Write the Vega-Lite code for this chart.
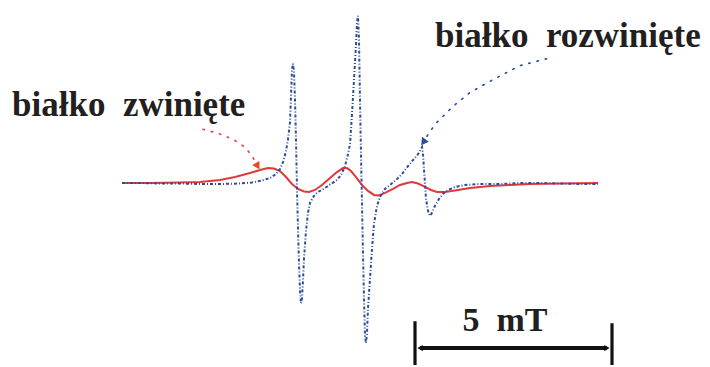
{
  "$schema": "https://vega.github.io/schema/vega-lite/v6.json",
  "width": 710,
  "height": 367,
  "autosize": {"type": "fit", "contains": "padding"},
  "padding": 0,
  "config": {"view": {"stroke": null}},
  "datasets": {
    "blue": [
      {"B":122,"a":184},{"B":140,"a":184},{"B":160,"a":184.5},{"B":180,"a":184.5},{"B":200,"a":185},{"B":220,"a":185},{"B":240,"a":184.5},{"B":252,"a":183.5},{"B":262,"a":181.5},{"B":270,"a":179},{"B":276,"a":175},{"B":280,"a":170},{"B":283,"a":163},{"B":286,"a":152},{"B":288,"a":140},{"B":290,"a":123},{"B":291,"a":97},{"B":292,"a":70},{"B":293,"a":64},{"B":294,"a":72},{"B":295,"a":100},{"B":296,"a":140},{"B":297,"a":190},{"B":298,"a":230},{"B":299,"a":265},{"B":300,"a":292},{"B":301,"a":305},{"B":302,"a":300},{"B":303,"a":282},{"B":304,"a":260},{"B":306,"a":232},{"B":308,"a":214},{"B":310,"a":204},{"B":314,"a":197},{"B":318,"a":193},{"B":325,"a":189},{"B":331,"a":185},{"B":337,"a":181},{"B":341,"a":176},{"B":345,"a":167},{"B":348,"a":155},{"B":350,"a":145},{"B":352,"a":115},{"B":354,"a":80},{"B":356,"a":45},{"B":357,"a":22},{"B":358,"a":16},{"B":359,"a":40},{"B":360,"a":100},{"B":361,"a":155},{"B":362,"a":205},{"B":363,"a":255},{"B":364,"a":300},{"B":365,"a":338},{"B":366,"a":345},{"B":367,"a":335},{"B":368,"a":310},{"B":370,"a":280},{"B":372,"a":250},{"B":374,"a":225},{"B":377,"a":207},{"B":380,"a":198},{"B":385,"a":190},{"B":390,"a":186},{"B":396,"a":181},{"B":402,"a":175},{"B":408,"a":167},{"B":413,"a":161},{"B":418,"a":155},{"B":421,"a":150},{"B":422,"a":148},{"B":423,"a":155},{"B":424,"a":170},{"B":425,"a":185},{"B":426,"a":200},{"B":428,"a":212},{"B":430,"a":217},{"B":432,"a":214},{"B":435,"a":207},{"B":439,"a":200},{"B":443,"a":195},{"B":448,"a":191},{"B":455,"a":188},{"B":465,"a":186},{"B":480,"a":185},{"B":500,"a":185},{"B":520,"a":184},{"B":540,"a":184},{"B":560,"a":184.5},{"B":580,"a":185},{"B":598,"a":185}
    ],
    "red": [
      {"B":122,"a":184},{"B":150,"a":184},{"B":180,"a":183.5},{"B":200,"a":183},{"B":220,"a":181},{"B":235,"a":178},{"B":250,"a":174},{"B":260,"a":171},{"B":268,"a":169},{"B":274,"a":169.5},{"B":280,"a":172},{"B":286,"a":178},{"B":292,"a":185},{"B":298,"a":190},{"B":304,"a":192.5},{"B":309,"a":193},{"B":315,"a":191},{"B":322,"a":186},{"B":330,"a":179},{"B":337,"a":173},{"B":343,"a":169},{"B":347,"a":169},{"B":351,"a":172},{"B":356,"a":178},{"B":362,"a":186},{"B":368,"a":192},{"B":374,"a":196},{"B":379,"a":196.5},{"B":385,"a":194},{"B":393,"a":190},{"B":400,"a":186},{"B":407,"a":184},{"B":412,"a":183},{"B":418,"a":184.5},{"B":425,"a":188},{"B":431,"a":191},{"B":437,"a":193},{"B":445,"a":193},{"B":455,"a":191.5},{"B":470,"a":189},{"B":490,"a":187},{"B":510,"a":186},{"B":530,"a":185},{"B":560,"a":184.5},{"B":598,"a":184}
    ],
    "redArrow": [
      {"B":203,"a":130},{"B":218,"a":134},{"B":233,"a":140},{"B":245,"a":148},{"B":252,"a":157},{"B":255,"a":162}
    ],
    "blueArrow": [
      {"B":547,"a":59},{"B":520,"a":66},{"B":495,"a":79},{"B":470,"a":93},{"B":453,"a":107},{"B":437,"a":123},{"B":430,"a":132},{"B":427,"a":137}
    ],
    "heads": [
      {"B":257,"a":166,"ang":150,"c":"red"},
      {"B":424,"a":142,"ang":215,"c":"blue"}
    ],
    "ticks": [
      {"B":415,"a":323,"a2":367},
      {"B":612,"a":325,"a2":367}
    ],
    "bar": [
      {"B":420,"B2":607,"a":350}
    ],
    "barHeads": [
      {"B":421,"a":350,"ang":270},
      {"B":606,"a":350,"ang":90}
    ],
    "labelsLeft": [
      {"B":12,"a":117,"t":"białko\u2002zwinięte"},
      {"B":435,"a":47,"t":"białko\u2002rozwinięte"}
    ],
    "labelsCenter": [
      {"B":505,"a":333,"t":"5\u2002mT"}
    ]
  },
  "encoding": {
    "x": {"field": "B", "type": "quantitative", "scale": {"domain": [0, 710]}, "axis": null},
    "y": {"field": "a", "type": "quantitative", "scale": {"domain": [0, 367], "reverse": true}, "axis": null}
  },
  "layer": [
    {
      "data": {"name": "red"},
      "mark": {"type": "line", "color": "#e2383a", "strokeWidth": 2, "clip": false}
    },
    {
      "data": {"name": "blue"},
      "mark": {"type": "line", "color": "#2e4c9c", "strokeWidth": 2, "strokeDash": [3, 2, 1, 2], "clip": false}
    },
    {
      "data": {"name": "redArrow"},
      "mark": {"type": "line", "color": "#e2383a", "strokeWidth": 1.6, "strokeDash": [1.5, 7], "strokeCap": "round"}
    },
    {
      "data": {"name": "blueArrow"},
      "mark": {"type": "line", "color": "#2e4c9c", "strokeWidth": 1.6, "strokeDash": [1.5, 7], "strokeCap": "round"}
    },
    {
      "data": {"name": "heads"},
      "mark": {"type": "point", "shape": "triangle", "filled": true, "size": 70, "opacity": 1},
      "encoding": {
        "angle": {"field": "ang", "type": "quantitative", "scale": null},
        "color": {"field": "c", "type": "nominal", "scale": {"domain": ["red", "blue"], "range": ["#e8481e", "#2e4c9c"]}, "legend": null}
      }
    },
    {
      "data": {"name": "ticks"},
      "mark": {"type": "rule", "color": "#111111", "strokeWidth": 3.2},
      "encoding": {"y2": {"field": "a2"}}
    },
    {
      "data": {"name": "bar"},
      "mark": {"type": "rule", "color": "#111111", "strokeWidth": 4},
      "encoding": {"x2": {"field": "B2"}}
    },
    {
      "data": {"name": "barHeads"},
      "mark": {"type": "point", "shape": "triangle", "filled": true, "size": 40, "color": "#111111", "opacity": 1},
      "encoding": {"angle": {"field": "ang", "type": "quantitative", "scale": null}}
    },
    {
      "data": {"name": "labelsLeft"},
      "mark": {"type": "text", "font": "Liberation Serif", "fontWeight": "bold", "fontSize": 35, "color": "#231f20", "baseline": "alphabetic", "align": "left"},
      "encoding": {"text": {"field": "t"}}
    },
    {
      "data": {"name": "labelsCenter"},
      "mark": {"type": "text", "font": "Liberation Serif", "fontWeight": "bold", "fontSize": 34, "color": "#231f20", "baseline": "alphabetic", "align": "center"},
      "encoding": {"text": {"field": "t"}}
    }
  ]
}
